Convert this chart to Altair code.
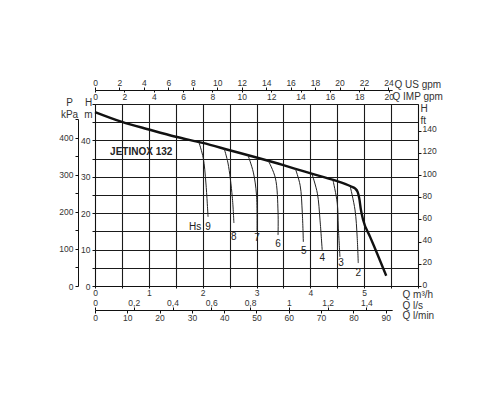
import altair as alt
import pandas as pd

# ---- data ----
main_q = [0, 0.5, 1.0, 1.5, 2.0, 2.5, 3.0, 3.5, 3.9, 4.25, 4.5, 4.75, 4.83, 4.88, 4.91, 4.94, 4.98, 5.11, 5.25, 5.41]
main_h = [47.8, 45.1, 43.0, 41.0, 39.3, 37.3, 35.3, 33.2, 31.4, 29.9, 28.8, 27.4, 26.8, 25.8, 24.0, 20.9, 18.2, 13.5, 8.6, 2.8]

hs_ids = ["9", "8", "7", "6", "5", "4", "3", "2"]
hs_q = [
    [1.93, 2.01, 2.06, 2.10],
    [2.40, 2.47, 2.55, 2.58],
    [2.84, 2.94, 3.00, 3.01],
    [3.22, 3.35, 3.40, 3.40],
    [3.72, 3.81, 3.85, 3.87],
    [4.03, 4.13, 4.18, 4.22],
    [4.42, 4.50, 4.52, 4.55],
    [4.74, 4.83, 4.87, 4.89],
]
hs_h = [
    [39.5, 35.2, 28.3, 19.0],
    [37.7, 33.8, 24.5, 17.3],
    [36.0, 31.3, 25.0, 14.8],
    [34.4, 29.7, 20.3, 14.0],
    [32.3, 27.7, 20.3, 12.1],
    [30.8, 25.5, 18.1, 9.9],
    [29.1, 22.8, 16.2, 8.0],
    [27.4, 20.9, 13.5, 6.3],
]

lab_text = ["Hs", "9", "8", "7", "6", "5", "4", "3", "2"]
lab_q = [1.86, 2.10, 2.58, 3.01, 3.40, 3.88, 4.22, 4.57, 4.89]
lab_h = [16.2, 16.2, 13.5, 13.2, 11.5, 9.6, 7.7, 6.3, 3.6]

model_text = ["JETINOX 132"]
model_q = [0.28]
model_h = [36.8]

# unit conversions (per m3/h or per m)
KPA_PER_M = 9.80665
FT_PER_M = 3.28084
USGPM_PER_M3H = 4.40287
IMPGPM_PER_M3H = 3.66615
LMIN_PER_M3H = 1000.0 / 60.0

# ---- layout ----
W, H = 323, 182
Q_MAX, H_MAX = 6.0, 50.0
FONT = "Liberation Sans"
INK = "#222222"

sx = alt.Scale(domain=[0, Q_MAX], nice=False, zero=False)
sy = alt.Scale(domain=[0, H_MAX], nice=False, zero=False)

common = dict(labelFont=FONT, labelFontSize=8.5, labelColor="#333333",
              domainColor="#111111", tickColor="#111111",
              titleFont=FONT, titleFontSize=10, titleFontWeight="normal",
              titleColor="#333333", labelFlush=False, labelOverlap=False,
              titleAngle=0)

main_df = pd.DataFrame({"q": main_q, "h": main_h})
hs_rows = []
for i, sid in enumerate(hs_ids):
    for k, (q, h) in enumerate(zip(hs_q[i], hs_h[i])):
        hs_rows.append({"id": sid, "q": q, "h": h, "o": k})
hs_df = pd.DataFrame(hs_rows)
lab_df = pd.DataFrame({"t": lab_text, "q": lab_q, "h": lab_h})
model_df = pd.DataFrame({"t": model_text, "q": model_q, "h": model_h})

x_axis_main = alt.Axis(
    values=[i * 0.5 for i in range(13)],
    labelExpr="(datum.value % 1 == 0 && datum.value < 6) ? format(datum.value, 'd') : ''",
    grid=True, gridColor="#1a1a1a", gridWidth=1.1, tickSize=2, labelPadding=0,
    title="Q m³/h", titleX=307, titleY=8, titleAlign="left", titleBaseline="middle",
    orient="bottom", **common)
y_axis_main = alt.Axis(
    values=[i * 5 for i in range(11)],
    labelExpr="(datum.value % 10 == 0 && datum.value < 50) ? format(datum.value, 'd') : ''",
    grid=True, gridColor="#1a1a1a", gridWidth=1.1, tickSize=3, labelPadding=2,
    title=["H", "m"], titleX=-7, titleY=-7, titleAlign="center", titleBaseline="top",
    titleLineHeight=12, orient="left", **common)

main_line = alt.Chart(main_df).mark_line(interpolate="monotone", strokeWidth=2.4, color="#111111").encode(
    x=alt.X("q:Q", scale=sx, axis=x_axis_main),
    y=alt.Y("h:Q", scale=sy, axis=y_axis_main),
)

hs_lines = alt.Chart(hs_df).mark_line(interpolate="catmull-rom", strokeWidth=1, color="#222222").encode(
    x=alt.X("q:Q", scale=sx, axis=None),
    y=alt.Y("h:Q", scale=sy, axis=None),
    detail="id:N",
    order="o:Q",
)

hs_labels = alt.Chart(lab_df).mark_text(font=FONT, fontSize=10, color=INK, align="center", baseline="middle").encode(
    x=alt.X("q:Q", scale=sx, axis=None),
    y=alt.Y("h:Q", scale=sy, axis=None),
    text="t:N",
)

model_label = alt.Chart(model_df).mark_text(font=FONT, fontSize=10, fontWeight="bold", color=INK,
                                            align="left", baseline="middle").encode(
    x=alt.X("q:Q", scale=sx, axis=None),
    y=alt.Y("h:Q", scale=sy, axis=None),
    text="t:N",
)

# ---- secondary axes ----
p_max = 450.0
p_px = p_max / KPA_PER_M / H_MAX * H
p_df = pd.DataFrame({"v": [0, p_max]})
p_layer = alt.Chart(p_df).mark_point(opacity=0).encode(
    y=alt.Y("v:Q", scale=alt.Scale(domain=[0, p_max], range=[H, H - p_px], nice=False, zero=False),
            axis=alt.Axis(orient="left", offset=17, values=[i * 50 for i in range(10)],
                          labelExpr="datum.value % 100 == 0 ? format(datum.value, 'd') : ''",
                          tickSize=3, labelPadding=2, grid=False,
                          title=["P", "kPa"], titleX=-9, titleY=-7, titleAlign="center",
                          titleBaseline="top", titleLineHeight=12, **common))
)

ft_max = H_MAX * FT_PER_M
ft_df = pd.DataFrame({"v": [0, ft_max]})
ft_layer = alt.Chart(ft_df).mark_point(opacity=0).encode(
    y=alt.Y("v:Q", scale=alt.Scale(domain=[0, ft_max], nice=False, zero=False),
            axis=alt.Axis(orient="right", values=[i * 20 for i in range(8)], format="d",
                          tickSize=3, labelPadding=1, labelOffset=-2, grid=False,
                          title=["H", "ft"], titleX=2, titleY=-1, titleAlign="left",
                          titleBaseline="top", titleLineHeight=12, **common))
)

top_m3h = 24.3 / USGPM_PER_M3H
top_px = top_m3h / Q_MAX * W
us_df = pd.DataFrame({"v": [0, 24.3]})
us_layer = alt.Chart(us_df).mark_point(opacity=0).encode(
    x=alt.X("v:Q", scale=alt.Scale(domain=[0, 24.3], range=[0, top_px], nice=False, zero=False),
            axis=alt.Axis(orient="top", offset=14, values=[i * 2 for i in range(13)], format="d",
                          tickSize=3, labelPadding=0, grid=False,
                          title="Q US gpm", titleX=299, titleY=-6, titleAlign="left",
                          titleBaseline="middle", **common))
)

imp_max = top_m3h * IMPGPM_PER_M3H
imp_df = pd.DataFrame({"v": [0, imp_max]})
imp_layer = alt.Chart(imp_df).mark_point(opacity=0).encode(
    x=alt.X("v:Q", scale=alt.Scale(domain=[0, imp_max], range=[0, top_px], nice=False, zero=False),
            axis=alt.Axis(orient="bottom", offset=-(H + 14), values=[i * 2 for i in range(11)], format="d",
                          tickSize=2, labelPadding=0, grid=False, domain=False,
                          title="Q IMP gpm", titleX=297, titleY=6, titleAlign="left",
                          titleBaseline="middle", **common))
)

lmin_max = 92.0
bot_px = lmin_max / LMIN_PER_M3H / Q_MAX * W
lmin_df = pd.DataFrame({"v": [0, lmin_max]})
lmin_layer = alt.Chart(lmin_df).mark_point(opacity=0).encode(
    x=alt.X("v:Q", scale=alt.Scale(domain=[0, lmin_max], range=[0, bot_px], nice=False, zero=False),
            axis=alt.Axis(orient="bottom", offset=24, values=[i * 10 for i in range(10)], format="d",
                          tickSize=3, labelPadding=0, grid=False,
                          title="Q l/min", titleX=307, titleY=5, titleAlign="left",
                          titleBaseline="middle", **common))
)

ls_max = lmin_max / 60.0
ls_df = pd.DataFrame({"v": [0, ls_max]})
ls_layer = alt.Chart(ls_df).mark_point(opacity=0).encode(
    x=alt.X("v:Q", scale=alt.Scale(domain=[0, ls_max], range=[0, bot_px], nice=False, zero=False),
            axis=alt.Axis(orient="top", offset=-(H + 24), values=[round(i * 0.2, 1) for i in range(8)],
                          labelExpr="replace(format(datum.value, '.1~f'), '.', ',')",
                          tickSize=3, labelPadding=0, grid=False, domain=False,
                          title="Q l/s", titleX=307, titleY=-5, titleAlign="left",
                          titleBaseline="middle", **common))
)

chart = alt.layer(
    main_line, hs_lines, hs_labels, model_label,
    p_layer, ft_layer, us_layer, imp_layer, lmin_layer, ls_layer,
).resolve_scale(x="independent", y="independent").properties(
    width=W, height=H,
    autosize=alt.AutoSizeParams(type="none"),
    padding={"left": 87, "top": 96, "right": 70, "bottom": 100},
    background="white",
).configure_view(stroke=None)

chart.save("out.html", embed_options={"renderer": "svg", "actions": False})
